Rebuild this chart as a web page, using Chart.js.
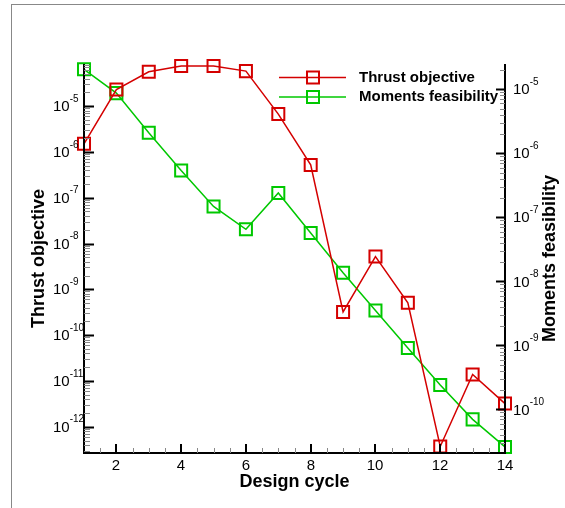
<!DOCTYPE html>
<html lang="en">
<head>
    <meta charset="UTF-8">
    <title>Design cycle</title>
    <script src="https://cdn.jsdelivr.net/npm/chart.js@4.4.0/dist/chart.umd.min.js"></script>
    <style>
        html, body { margin: 0; padding: 0; background: #fff; }
        #wrap { width: 565px; height: 508px; }
    </style>
</head>
<body>
<div id="wrap"><canvas id="c" width="565" height="508"></canvas></div>
<script>
    // data
    const cycles = [1, 2, 3, 4, 5, 6, 7, 8, 9, 10, 11, 12, 13, 14];
    const thrust = [1.5e-6, 2.3e-5, 5.6e-5, 7.5e-5, 7.5e-5, 5.8e-5, 6.7e-6, 5.2e-7,
                    3.2e-10, 5.2e-9, 5.1e-10, 3.7e-13, 1.38e-11, 3.2e-12];
    const moments = [2.05e-5, 8.7e-6, 2.1e-6, 5.4e-7, 1.48e-7, 6.5e-8, 2.4e-7, 5.7e-8,
                     1.36e-8, 3.5e-9, 9.1e-10, 2.4e-10, 7e-11, 2.6e-11];
    const thrustRange = [2.67e-13, 8.3e-5];
    const momentsRange = [2.09e-11, 2.48e-5];
    const thrustExps = [-12, -11, -10, -9, -8, -7, -6, -5];
    const momentsExps = [-10, -9, -8, -7, -6, -5];
    const xTicks = [2, 4, 6, 8, 10, 12, 14];
    const seriesNames = ['Thrust objective', 'Moments feasibility'];

    const RED = '#d40000';
    const GREEN = '#00c800';
    const FONT = 'Arial, "Liberation Sans", sans-serif';

    function square(ctx, x, y, side, color) {
        ctx.strokeStyle = color;
        ctx.lineWidth = 2;
        ctx.strokeRect(x - side / 2, y - side / 2, side, side);
    }

    function line(ctx, x1, y1, x2, y2, color, w) {
        ctx.strokeStyle = color;
        ctx.lineWidth = w;
        ctx.beginPath();
        ctx.moveTo(x1, y1);
        ctx.lineTo(x2, y2);
        ctx.stroke();
    }

    // "10" with a raised exponent
    function powLabel(ctx, x, y, exp) {
        ctx.fillStyle = '#000';
        ctx.textAlign = 'left';
        ctx.textBaseline = 'middle';
        ctx.font = '15px ' + FONT;
        ctx.fillText('10', x, y + 1);
        const w = ctx.measureText('10').width;
        ctx.font = '10px ' + FONT;
        ctx.fillText(String(exp), x + w, y - 7);
    }

    // minor/major ticks for a log axis
    function logTicks(ctx, scale, xAxis, dir, majorLen, minorLen) {
        const lo = Math.floor(Math.log10(scale.min));
        const hi = Math.ceil(Math.log10(scale.max));
        for (let n = lo; n <= hi; n++) {
            for (let k = 1; k <= 9; k++) {
                const v = k * Math.pow(10, n);
                if (v < scale.min || v > scale.max) continue;
                const y = Math.round(scale.getPixelForValue(v)) + 0.5;
                if (k === 1) {
                    line(ctx, xAxis, y, xAxis + dir * majorLen, y, '#000', 2);
                } else {
                    line(ctx, xAxis, y, xAxis + dir * minorLen, y, '#888', 1);
                }
            }
        }
    }

    const framePlugin = {
        id: 'frame',
        beforeDraw(chart) {
            const ctx = chart.ctx;
            ctx.save();
            ctx.fillStyle = '#fff';
            ctx.fillRect(0, 0, chart.width, chart.height);
            line(ctx, 11, 4.5, chart.width, 4.5, '#888', 1);
            line(ctx, 11.5, 4, 11.5, chart.height, '#888', 1);
            ctx.restore();
        },
        afterDraw(chart) {
            const ctx = chart.ctx;
            const a = chart.chartArea;
            const sx = chart.scales.x, yl = chart.scales.yL, yr = chart.scales.yR;
            ctx.save();

            // axis lines
            line(ctx, a.left, a.top, a.left, a.bottom + 1, '#000', 2);
            line(ctx, a.right, a.top, a.right, a.bottom + 1, '#000', 2);
            line(ctx, a.left - 1, a.bottom, a.right + 1, a.bottom, '#000', 2);

            // x ticks
            for (let v = 1.5; v < 14; v += 0.5) {
                const x = Math.round(sx.getPixelForValue(v)) + 0.5;
                if (xTicks.indexOf(v) < 0) line(ctx, x, a.bottom, x, a.bottom - 5, '#888', 1);
            }
            ctx.font = '15px ' + FONT;
            ctx.textAlign = 'center';
            ctx.textBaseline = 'middle';
            xTicks.forEach(v => {
                const x = Math.round(sx.getPixelForValue(v));
                line(ctx, x, a.bottom, x, a.bottom - 9, '#000', 2);
                ctx.fillStyle = '#000';
                ctx.fillText(String(v), x, a.bottom + 13);
            });

            // y ticks
            logTicks(ctx, yl, a.left, 1, 10, 6);
            logTicks(ctx, yr, a.right, -1, 9, 5);
            thrustExps.forEach(e => powLabel(ctx, 53, yl.getPixelForValue(Math.pow(10, e)), e));
            momentsExps.forEach(e => powLabel(ctx, 513, yr.getPixelForValue(Math.pow(10, e)), e));

            // axis titles
            ctx.fillStyle = '#000';
            ctx.font = 'bold 18px ' + FONT;
            ctx.textAlign = 'center';
            ctx.textBaseline = 'middle';
            ctx.fillText('Design cycle', (a.left + a.right) / 2, a.bottom + 29);
            const cy = (a.top + a.bottom) / 2;
            ctx.save();
            ctx.translate(39, cy);
            ctx.rotate(-Math.PI / 2);
            ctx.fillText('Thrust objective', 0, 0);
            ctx.restore();
            ctx.save();
            ctx.translate(550, cy);
            ctx.rotate(-Math.PI / 2);
            ctx.fillText('Moments feasibility', 0, 0);
            ctx.restore();

            // legend
            const legendColors = [RED, GREEN];
            seriesNames.forEach((name, i) => {
                const y = 77.5 + i * 19.5;
                line(ctx, 279, y, 346, y, legendColors[i], 1.5);
                square(ctx, 313, y, 12, legendColors[i]);
                ctx.fillStyle = '#000';
                ctx.font = 'bold 15px ' + FONT;
                ctx.textAlign = 'left';
                ctx.textBaseline = 'middle';
                ctx.fillText(name, 359, y);
            });
            ctx.restore();
        }
    };

    function series(label, values, color, axis) {
        return {
            label: label,
            data: cycles.map((c, i) => ({ x: c, y: values[i] })),
            yAxisID: axis,
            clip: false,
            borderColor: color,
            borderWidth: 1.5,
            pointStyle: 'rect',
            pointRadius: 8.5,
            pointBorderWidth: 2,
            pointBorderColor: color,
            pointBackgroundColor: 'rgba(0,0,0,0)',
            tension: 0
        };
    }

    new Chart(document.getElementById('c').getContext('2d'), {
        type: 'line',
        data: {
            datasets: [
                series(seriesNames[0], thrust, RED, 'yL'),
                series(seriesNames[1], moments, GREEN, 'yR')
            ]
        },
        options: {
            responsive: false,
            animation: false,
            devicePixelRatio: 1,
            layout: { padding: { left: 84, right: 60, top: 64, bottom: 55 } },
            plugins: { legend: { display: false }, tooltip: { enabled: false } },
            scales: {
                x: { type: 'linear', min: 1, max: 14, display: false },
                yL: { type: 'logarithmic', position: 'left', min: thrustRange[0], max: thrustRange[1], display: false },
                yR: { type: 'logarithmic', position: 'right', min: momentsRange[0], max: momentsRange[1], display: false }
            }
        },
        plugins: [framePlugin]
    });
</script>
</body>
</html>
